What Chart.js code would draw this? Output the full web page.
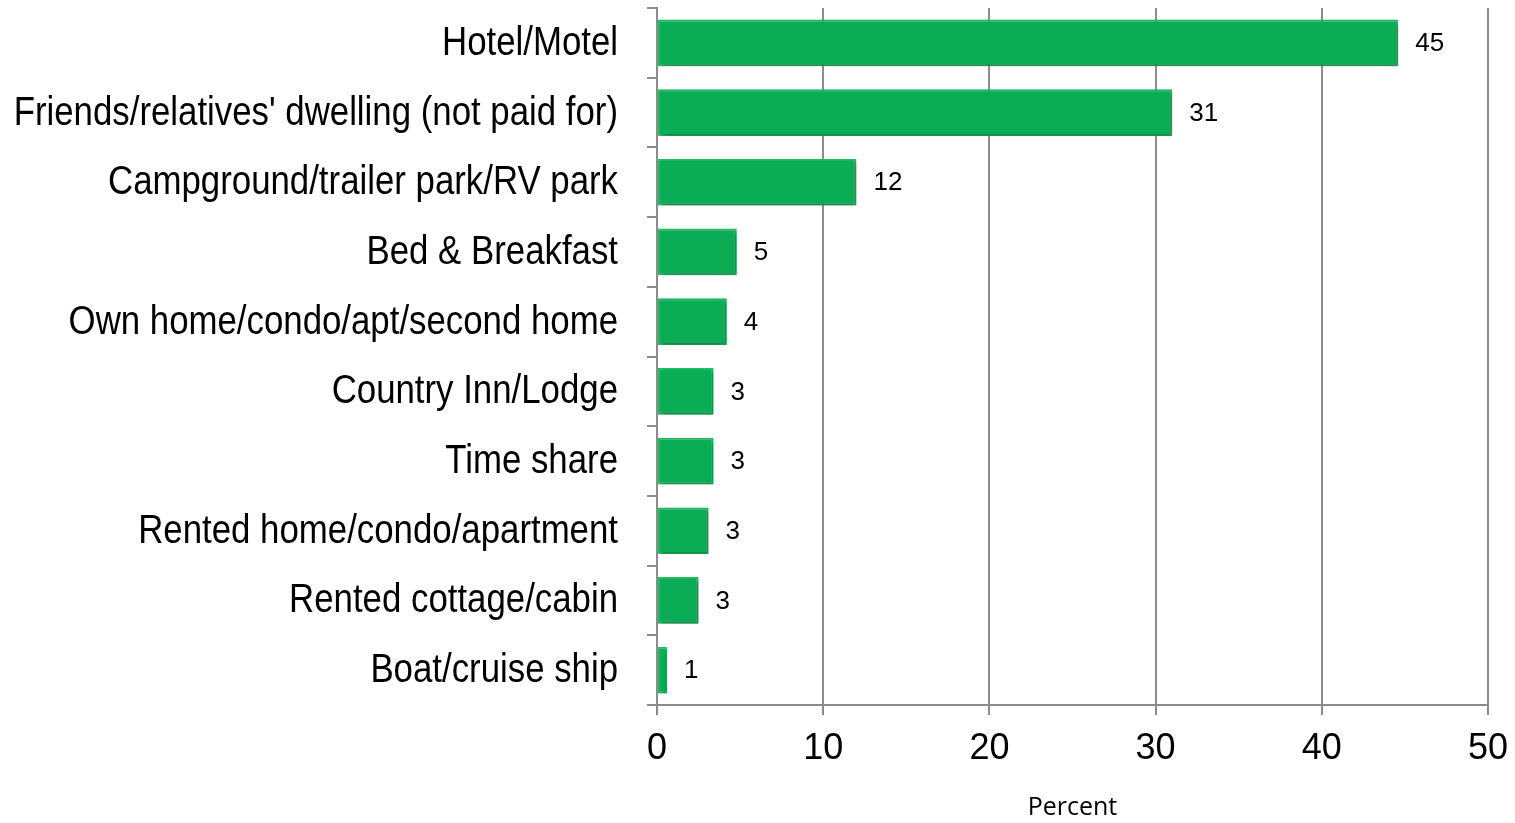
<!DOCTYPE html>
<html>
<head>
<meta charset="utf-8">
<script src="https://cdn.jsdelivr.net/npm/chart.js@4/dist/chart.umd.min.js"></script>
<style>
  html, body { margin: 0; padding: 0; background: #fff; }
  #wrap { width: 1515px; height: 823px; position: relative; }
</style>
</head>
<body>
<div id="wrap"><canvas id="barchart"></canvas></div>
<script>
const categories = [
  'Hotel/Motel',
  "Friends/relatives' dwelling (not paid for)",
  'Campground/trailer park/RV park',
  'Bed & Breakfast',
  'Own home/condo/apt/second home',
  'Country Inn/Lodge',
  'Time share',
  'Rented home/condo/apartment',
  'Rented cottage/cabin',
  'Boat/cruise ship'
];
const percents = [44.6, 31.0, 12.0, 4.8, 4.2, 3.4, 3.4, 3.1, 2.5, 0.6];
const xTicks = [0, 10, 20, 30, 40, 50];

const gridGrey = '#8c8c8c';
const arial = '"Liberation Sans", Arial, sans-serif';

// little drop shadow under the bars
const barShadow = {
  id: 'barShadow',
  beforeDatasetDraw(chart) {
    const c = chart.ctx;
    c.save();
    c.shadowColor = 'rgba(0,0,0,0.35)';
    c.shadowBlur = 4;
    c.shadowOffsetX = 2;
    c.shadowOffsetY = 2;
  },
  afterDatasetDraw(chart) {
    chart.ctx.restore();
  }
};

// value text right of each bar
const valueText = {
  id: 'valueText',
  afterDatasetsDraw(chart) {
    const c = chart.ctx;
    const meta = chart.getDatasetMeta(0);
    c.save();
    c.font = '26px ' + arial;
    c.fillStyle = '#000';
    c.textAlign = 'left';
    c.textBaseline = 'middle';
    meta.data.forEach((bar, i) => {
      c.fillText(String(Math.round(percents[i])), bar.x + 17, bar.y + 1);
    });
    c.restore();
  }
};

// category names in a narrow face (no Arial Narrow here, so squeeze Liberation Sans)
const narrowLabels = {
  id: 'narrowLabels',
  afterDraw(chart) {
    const c = chart.ctx;
    const ys = chart.scales.y;
    const right = ys.right - 39;
    c.save();
    c.font = '40px ' + arial;
    c.fillStyle = '#000';
    c.textAlign = 'right';
    c.textBaseline = 'middle';
    categories.forEach((name, i) => {
      c.save();
      c.translate(right, ys.getPixelForTick(i) + 1);
      c.scale(0.87, 1);
      c.fillText(name, 0, 0);
      c.restore();
    });
    c.restore();
  }
};

const ctx = document.getElementById('barchart').getContext('2d');
const myChart = new Chart(ctx, {
  type: 'bar',
  data: {
    labels: categories,
    datasets: [{
      label: 'Percent',
      data: percents,
      backgroundColor: '#0aac55',
      borderColor: '#22be66',
      borderWidth: 2,
      borderSkipped: false,
      barPercentage: 0.67,
      categoryPercentage: 1
    }]
  },
  options: {
    indexAxis: 'y',
    responsive: true,
    maintainAspectRatio: false,
    animation: false,
    layout: { padding: { top: 8, right: 27, left: 0, bottom: 0 } },
    plugins: {
      legend: { display: false },
      tooltip: { enabled: false }
    },
    scales: {
      x: {
        min: 0,
        max: 50,
        afterBuildTicks(scale) {
          scale.ticks = xTicks.map(v => ({ value: v }));
        },
        afterFit(scale) {
          scale.height = 118;
          scale.paddingLeft = 0;
          scale.paddingRight = 0;
        },
        grid: {
          color: gridGrey,
          lineWidth: 2,
          tickLength: 10,
          drawOnChartArea: true
        },
        border: { display: true, color: gridGrey, width: 2 },
        ticks: {
          color: '#000',
          padding: 12,
          font: { family: arial, size: 36 }
        },
        title: {
          display: true,
          text: 'Percent',
          color: '#000',
          padding: { top: 0, bottom: 0 },
          font: { family: '"Open Sans", Calibri, sans-serif', size: 25 }
        }
      },
      y: {
        afterFit(scale) {
          scale.width = 657;
          scale.paddingTop = 0;
          scale.paddingBottom = 0;
        },
        grid: {
          offset: true,
          color: gridGrey,
          lineWidth: 2,
          tickLength: 10,
          drawOnChartArea: false
        },
        border: { display: true, color: gridGrey, width: 2 },
        ticks: { display: false, autoSkip: false }
      }
    }
  },
  plugins: [barShadow, valueText, narrowLabels]
});
</script>
</body>
</html>
